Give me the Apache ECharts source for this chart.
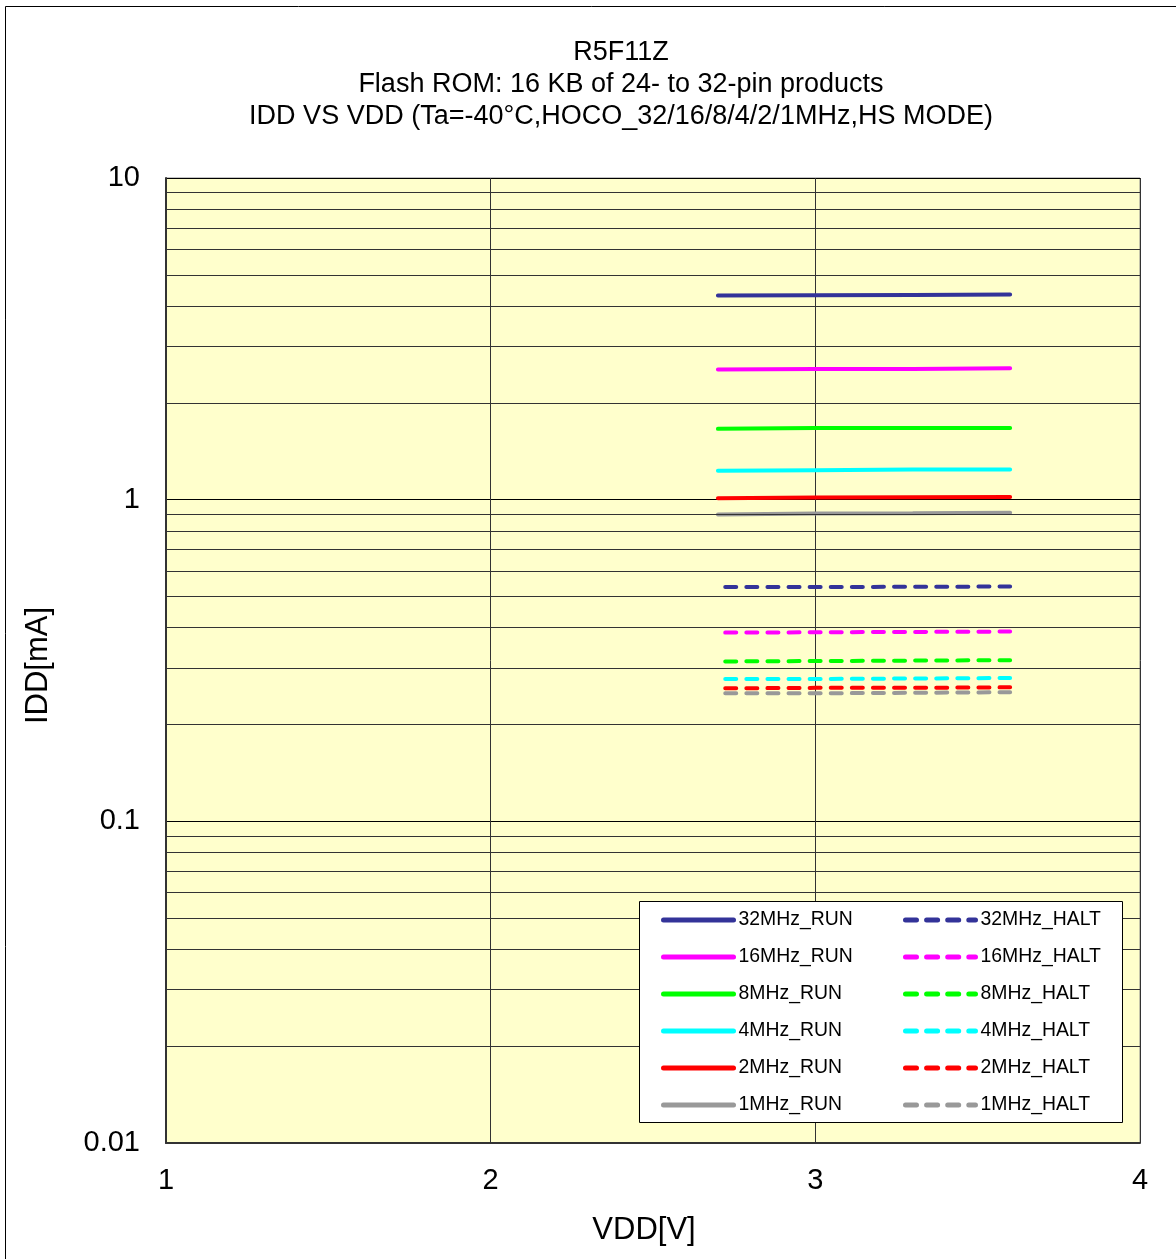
<!DOCTYPE html>
<html>
<head>
<meta charset="utf-8">
<script src="https://cdn.jsdelivr.net/npm/echarts@6/dist/echarts.min.js"></script>
<style>html,body{margin:0;padding:0;background:#fff}#c{width:1176px;height:1259px}</style>
</head>
<body>
<div id="c"></div>
<script>
const titleLines = ['R5F11Z', 'Flash ROM: 16 KB of 24- to 32-pin products', 'IDD VS VDD (Ta=-40\u00B0C,HOCO_32/16/8/4/2/1MHz,HS MODE)'];
const vdd = [2.7, 3.0, 3.3, 3.6];
const run32 = [4.31, 4.32, 4.33, 4.34];
const run16 = [2.54, 2.55, 2.55, 2.56];
const run8 = [1.66, 1.67, 1.67, 1.67];
const run4 = [1.23, 1.235, 1.24, 1.24];
const run2 = [1.01, 1.015, 1.018, 1.02];
const run1 = [0.90, 0.905, 0.907, 0.91];
const halt32 = [0.535, 0.535, 0.536, 0.537];
const halt16 = [0.386, 0.387, 0.388, 0.389];
const halt8 = [0.314, 0.315, 0.316, 0.317];
const halt4 = [0.277, 0.277, 0.278, 0.279];
const halt2 = [0.259, 0.260, 0.260, 0.261];
const halt1 = [0.250, 0.250, 0.251, 0.252];
const runNames = ['32MHz_RUN', '16MHz_RUN', '8MHz_RUN', '4MHz_RUN', '2MHz_RUN', '1MHz_RUN'];
const haltNames = ['32MHz_HALT', '16MHz_HALT', '8MHz_HALT', '4MHz_HALT', '2MHz_HALT', '1MHz_HALT'];
const colors = ['#333399', '#FF00FF', '#00FF00', '#00FFFF', '#FF0000', '#999999'];
const xTicks = [1, 2, 3, 4];
const yDecades = [0.01, 0.1, 1, 10];

const runData = [run32, run16, run8, run4, run2, run1];
const haltData = [halt32, halt16, halt8, halt4, halt2, halt1];
const FONT = '"Liberation Sans", Arial, sans-serif';

// minor log grid lines (2..9 of each decade)
const minorLines = [];
for (let d = 0; d < yDecades.length - 1; d++) {
  for (let m = 2; m <= 9; m++) minorLines.push({ yAxis: +(yDecades[d] * m).toPrecision(3) });
}

const series = [{
  type: 'line', name: '_grid', data: [], silent: true, z: 1,
  markLine: {
    silent: true, symbol: ['none', 'none'], label: { show: false },
    lineStyle: { color: '#333', width: 1, type: 'solid' },
    emphasis: { disabled: true },
    data: minorLines, animation: false
  }
}];
function pairs(arr) { return vdd.map((x, i) => [x, arr[i]]); }
runNames.forEach((n, i) => series.push({
  type: 'line', name: n, data: pairs(runData[i]), symbol: 'none', z: 3,
  lineStyle: { color: colors[i], width: 4, cap: 'round', type: 'solid' },
  itemStyle: { color: colors[i] }
}));
haltNames.forEach((n, i) => series.push({
  type: 'line', name: n, data: pairs(haltData[i]), symbol: 'none', z: 3,
  lineStyle: { color: colors[i], width: 4, cap: 'round', type: [11, 10.1], dashOffset: 13.8 },
  itemStyle: { color: colors[i] }
}));

const legendCommon = {
  orient: 'vertical', top: 910, padding: 0, itemWidth: 70, itemHeight: 5, itemGap: 17,
  z: 30, selectedMode: false,
  itemStyle: { opacity: 0 },
  lineStyle: { width: 5, cap: 'round', dashOffset: 0 },
  textStyle: { fontFamily: FONT, fontSize: 19.4, color: '#000', lineHeight: 20 }
};

const chart = echarts.init(document.getElementById('c'), null, { renderer: 'canvas' });
chart.setOption({
  animation: false,
  backgroundColor: '#fff',
  title: {
    text: titleLines.join('\n'), left: 616, top: 32, textAlign: 'center',
    textStyle: { fontFamily: FONT, fontSize: 27, fontWeight: 'normal', color: '#000', lineHeight: 32 }
  },
  graphic: [
    { type: 'rect', z: -10, shape: { x: 5.5, y: 6.5, width: 1300, height: 1300 }, style: { fill: 'none', stroke: '#000', lineWidth: 1 } },
    { type: 'rect', z: 20, shape: { x: 639.5, y: 901.5, width: 483, height: 221 }, style: { fill: '#fff', stroke: '#000', lineWidth: 1 } }
  ],
  grid: { left: 166, right: 36, top: 178, bottom: 116, show: true, backgroundColor: '#FFFFCC', borderColor: '#888', borderWidth: 1 },
  legend: [
    Object.assign({}, legendCommon, { left: 661, data: runNames }),
    Object.assign({}, legendCommon, { left: 903, data: haltNames })
  ],
  xAxis: {
    type: 'value', min: xTicks[0], max: xTicks[xTicks.length - 1], interval: 1,
    name: 'VDD[V]', nameLocation: 'middle', nameGap: 72,
    nameTextStyle: { fontFamily: FONT, fontSize: 31, color: '#000', verticalAlign: 'top', padding: [0, 18, 0, 0] },
    axisLine: { show: true, lineStyle: { color: '#333', width: 2 } },
    axisTick: { show: false },
    axisLabel: { fontFamily: FONT, fontSize: 29, color: '#000', margin: 23 },
    splitLine: { show: true, lineStyle: { color: '#333', width: 1 } }
  },
  yAxis: {
    type: 'log', logBase: 10, min: yDecades[0], max: yDecades[yDecades.length - 1],
    name: 'IDD[mA]', nameLocation: 'middle', nameGap: 112, nameRotate: 90,
    nameTextStyle: { fontFamily: FONT, fontSize: 31, color: '#000', padding: [0, 10, 0, 0] },
    axisLine: { show: true, lineStyle: { color: '#333', width: 2 } },
    axisTick: { show: false },
    axisLabel: { fontFamily: FONT, fontSize: 29, color: '#000', margin: 26, formatter: v => String(+v.toPrecision(3)) },
    splitLine: { show: true, lineStyle: { color: '#000', width: 1 } }
  },
  series: series
});
</script>
</body>
</html>
